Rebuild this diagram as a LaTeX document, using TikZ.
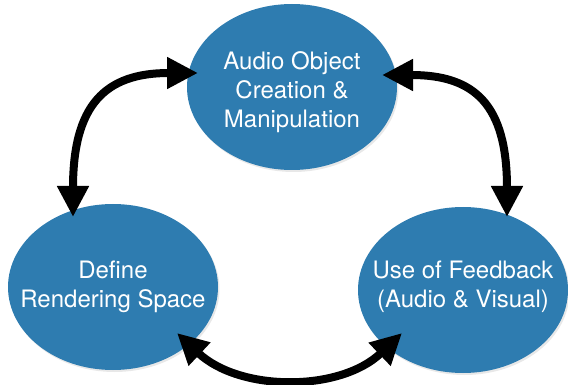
\documentclass[tikz,border=0pt]{standalone}
\usepackage{fontspec}
\setmainfont{TeX Gyre Heros}
\usetikzlibrary{arrows.meta,shadows,shapes.geometric}
\definecolor{blobblue}{RGB}{46,124,176}
\begin{document}
\begin{tikzpicture}[x=1pt,y=-1pt,
  blob/.style={ellipse, fill=blobblue, minimum width=210pt, minimum height=166pt, inner sep=0pt,
    drop shadow={opacity=0.18, shadow xshift=1.5pt, shadow yshift=-2pt}},
  txt/.style={text=white, align=center, font=\fontsize{24}{29}\selectfont},
  link/.style={line width=8pt, {Triangle[length=31pt,width=30pt]}-{Triangle[length=31pt,width=30pt]}}]
\useasboundingbox (0,0) rectangle (568,385);
\node[blob, label={[txt, yshift=-5pt, name=toptxt]center:Audio Object\\Creation \&\\Manipulation}] (top) at (292,87) {};
\node[blob, label={[txt, name=lefttxt]center:Define\\Rendering Space}] (left) at (113,287) {};
\node[blob, label={[txt, yshift=3pt, name=righttxt]center:Use of Feedback\\(Audio \& Visual)}] (right) at (463,290) {};
\draw[link] ([shift={(-94,-14)}]top.center) .. controls (105,73) and (73,105) .. ([shift={(-40,-70)}]left.center);
\draw[link] ([shift={(90,-12)}]top.center) .. controls (475,75) and (507,105) .. ([shift={(44,-73)}]right.center);
\draw[link] ([shift={(64,46)}]left.center) .. controls (240,392) and (340,392) .. ([shift={(-61,43)}]right.center);
\end{tikzpicture}
\end{document}
